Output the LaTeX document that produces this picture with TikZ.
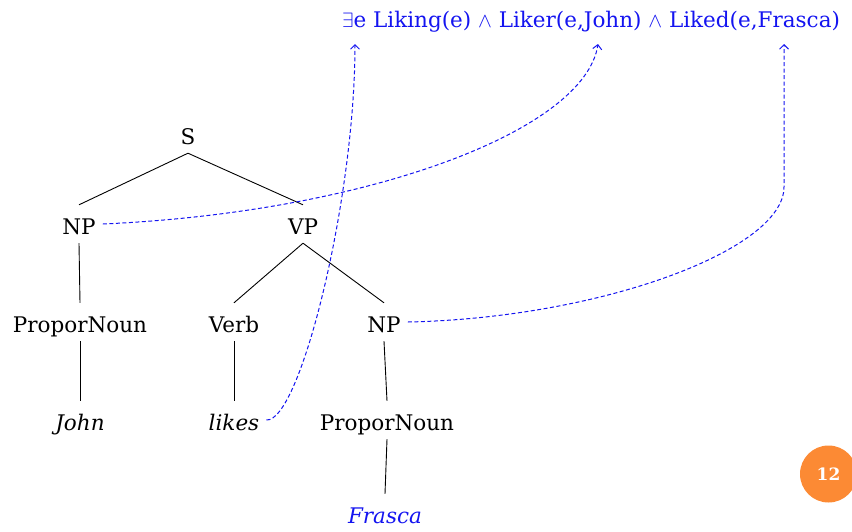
\documentclass[tikz,border=0pt]{standalone}
\usepackage{fontspec}
\setmainfont{DejaVu Serif}
\usetikzlibrary{arrows.meta}
\definecolor{lnkblue}{RGB}{20,20,240}
\definecolor{badge}{RGB}{252,138,52}
\begin{document}
\begin{tikzpicture}[x=1pt,y=-1pt,
  tn/.style={font=\fontsize{21.5}{25}\selectfont, inner xsep=7pt, inner ysep=2pt,
     text height=27pt, text depth=7pt, anchor=base},
  edge/.style={draw=black, line width=0.9pt},
  link/.style={draw=lnkblue, line width=1pt, dash pattern=on 4pt off 2.5pt,
     -{Straight Barb[length=4.5pt,width=9pt,line width=1pt]}}]
\useasboundingbox (0,0) rectangle (852,531);
\node[tn] (S) at (188,144) {S};
\node[tn] (NP1) at (79,234) {NP};
\node[tn] (VP) at (303,234) {VP};
\node[tn] (PN1) at (80,332) {ProporNoun};
\node[tn] (V) at (234,332) {Verb};
\node[tn] (NP2) at (384,332) {NP};
\node[tn] (J) at (80,430) {\itshape John};
\node[tn] (L) at (234,430) {\itshape likes};
\node[tn] (PN2) at (387,430) {ProporNoun};
\node[tn, text=lnkblue] (F) at (385,523) {\itshape Frasca};
\node[font=\fontsize{21.5}{25}\selectfont, inner sep=0pt, anchor=base, text=lnkblue] (M) at (591,27) {$\exists$e Liking(e) $\wedge$ Liker(e,John) $\wedge$ Liked(e,Frasca)};
\coordinate (A1) at (355,44);
\coordinate (A2) at (598,44);
\coordinate (A3) at (784,44);
\draw[edge] (S.south) -- (NP1.north);
\draw[edge] (S.south) -- (VP.north);
\draw[edge] (NP1.south) -- (PN1.north);
\draw[edge] (PN1.south) -- (J.north);
\draw[edge] (VP.south) -- (V.north);
\draw[edge] (VP.south) -- (NP2.north);
\draw[edge] (V.south) -- (L.north);
\draw[edge] (NP2.south) -- (PN2.north);
\draw[edge] (PN2.south) -- (F.north);
\draw[link] (L.east) .. controls (300,422) and (355,200) .. (A1);
\draw[link] (NP1.east) .. controls (370,212) and (585,130) .. (A2);
\draw[link] (NP2.east) .. controls (600,318) and (784,250) .. (784,187) -- (A3);
\node[circle, fill=badge, minimum size=57pt, inner sep=0pt, text=white, font=\fontsize{17}{20}\selectfont\bfseries] (B) at (828.5,474) {12};
\end{tikzpicture}
\end{document}
